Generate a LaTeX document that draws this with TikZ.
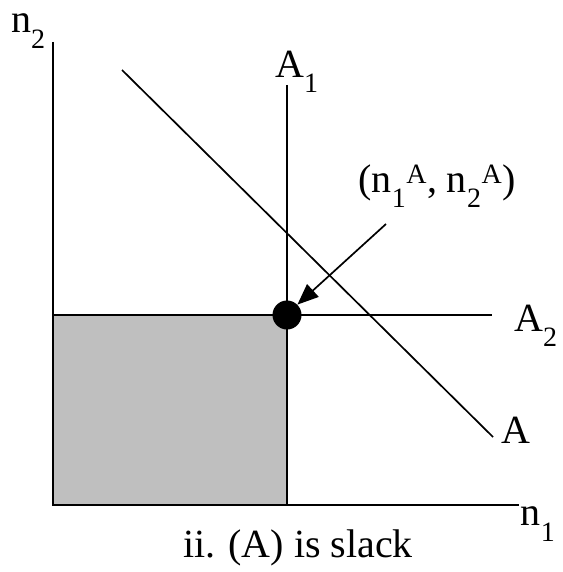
\documentclass[tikz,border=0pt]{standalone}
\usepackage{fontspec}
\setmainfont{Liberation Serif}
\usetikzlibrary{arrows.meta}
\tikzset{
  axis/.style={line width=2pt},
  ln/.style={line width=1.7pt},
  lbl/.style={inner sep=0pt, font=\fontsize{40}{46}\selectfont},
}
\newcommand{\sbs}[1]{\raisebox{-0.3ex}{\textsubscript{#1}}}
\begin{document}
\begin{tikzpicture}[x=1pt,y=-1pt]
\useasboundingbox (0,0) rectangle (562,572);
\fill[gray!50] (53,315) rectangle (287,505);
\coordinate (o) at (53,505);
\coordinate (ytop) at (53,42);
\coordinate (xend) at (519,505);
\draw[axis] (ytop) -- (o) -- (xend);
\coordinate (a1top) at (287,85);
\coordinate (a1bot) at (287,505);
\draw[ln] (a1top) -- (a1bot);
\coordinate (a2l) at (53,315);
\coordinate (a2r) at (492,315);
\draw[ln] (a2l) -- (a2r);
\coordinate (dtop) at (122,70);
\coordinate (dbot) at (493,437);
\draw[ln] (dtop) -- (dbot);
\node[circle, fill=black, minimum size=29pt, inner sep=0pt] (pt) at (287,315) {};
\coordinate (astart) at (386,224);
\draw[ln, -{Triangle[length=21pt,width=17pt]}] (astart) -- (pt.north east);
\node[lbl, anchor=base west] (ln2) at (11,33) {n\sbs{2}};
\node[lbl] (lA1) at (297,72) {A\sbs{1}};
\node[lbl] (lpt) at (437,186) {(n\sbs{1}\textsuperscript{A}, n\sbs{2}\textsuperscript{A})};
\node[lbl] (lA2) at (536,326) {A\sbs{2}};
\node[lbl] (lA) at (516,430) {A};
\node[lbl] (ln1) at (538,524) {n\sbs{1}};
\node[lbl] (cap) at (298,548) {ii. (A) is slack};
\end{tikzpicture}
\end{document}
